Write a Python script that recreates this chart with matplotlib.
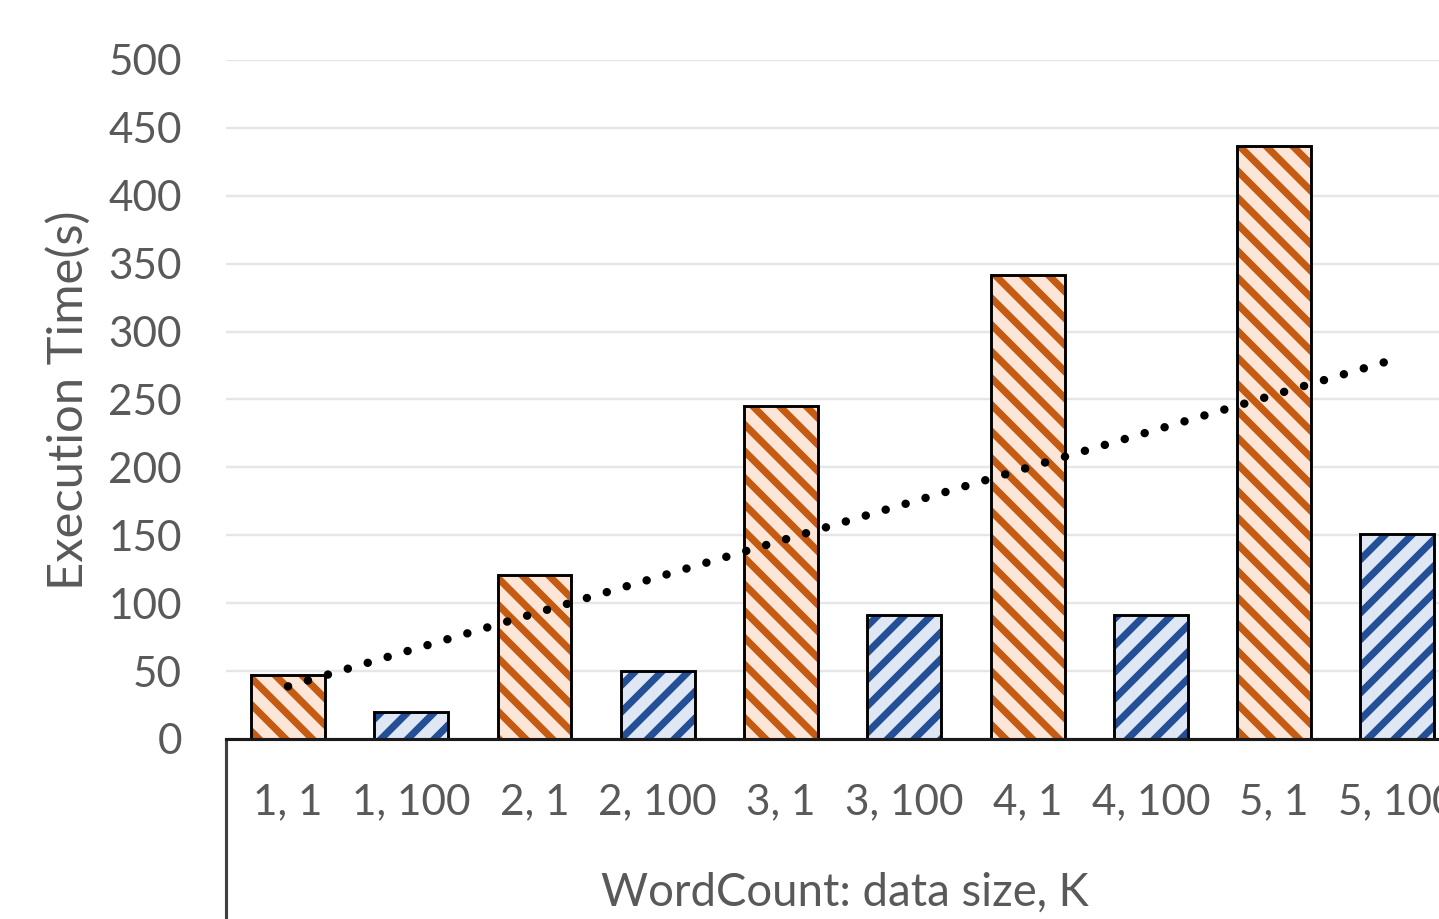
import numpy as np
import matplotlib
matplotlib.use("Agg")
import matplotlib.pyplot as plt

categories = ["1, 1", "1, 100", "2, 1", "2, 100", "3, 1", "3, 100", "4, 1", "4, 100", "5, 1", "5, 100"]
values = [47, 20, 121, 50, 245, 91, 342, 91, 437, 151]
series_kind = ["K1", "K100", "K1", "K100", "K1", "K100", "K1", "K100", "K1", "K100"]
y_ticks = [0, 50, 100, 150, 200, 250, 300, 350, 400, 450, 500]
x_label = "WordCount: data size, K"
y_label = "Execution Time(s)"

DPI = 160
plt.rcParams['font.family'] = ['Lato', 'DejaVu Sans']
plt.rcParams['hatch.linewidth'] = 3.2

fig = plt.figure(figsize=(1439 / DPI, 919 / DPI), dpi=DPI)
ax = fig.add_axes([226.4 / 1439, 180 / 919, 1232.5 / 1439, 679 / 919])

style = {
    "K1": dict(face="#fde6d7", hatch_color="#c55a11", hatch="\\\\"),
    "K100": dict(face="#dfe7f5", hatch_color="#234f96", hatch="//"),
}
x = np.arange(len(categories))
for xi, v, k in zip(x, values, series_kind):
    s = style[k]
    ax.bar(xi, v, width=0.6, color=s["face"], edgecolor=s["hatch_color"],
           hatch=s["hatch"], linewidth=0, zorder=2)
    ax.bar(xi, v, width=0.6, fill=False, edgecolor="black", linewidth=1.3, zorder=3)

# linear trendline across all values
coef = np.polyfit(x + 1, values, 1)
trend = np.polyval(coef, x + 1)
ax.plot([x[0], x[-1]], [trend[0], trend[-1]], color="black", lw=3.8,
        linestyle=(0, (0.01, 2.45)), dash_capstyle="round", zorder=4)

ax.set_xlim(-0.5, len(categories) - 0.5)
ax.set_ylim(0, 500)
ax.set_yticks(y_ticks)
ax.set_xticks(x)
ax.set_xticklabels(categories)
ax.tick_params(axis="both", length=0, labelsize=19, labelcolor="#595959")
ax.tick_params(axis="y", pad=20)
ax.tick_params(axis="x", pad=20)
ax.yaxis.grid(True, color="#e6e6e6", linewidth=1.1, zorder=0)
ax.set_axisbelow(True)
for sp in ["top", "right", "left"]:
    ax.spines[sp].set_visible(False)
ax.spines["bottom"].set_color("#1a1a1a")
ax.spines["bottom"].set_linewidth(1.4)
ax.spines["bottom"].set_zorder(5)

# left border of the category label area
ax.plot([0, 0], [0, -0.4], transform=ax.transAxes, color="#404040", lw=1.4,
        clip_on=False, zorder=5, solid_capstyle="butt")

fig.text(68 / 1439, 1 - 400 / 919, y_label, rotation=90, ha="center", va="center",
         fontsize=22, color="#595959")
fig.text(845 / 1439, 1 - 893 / 919, x_label, ha="center", va="center",
         fontsize=20.5, color="#595959")

fig.savefig("out.png", dpi=DPI)
